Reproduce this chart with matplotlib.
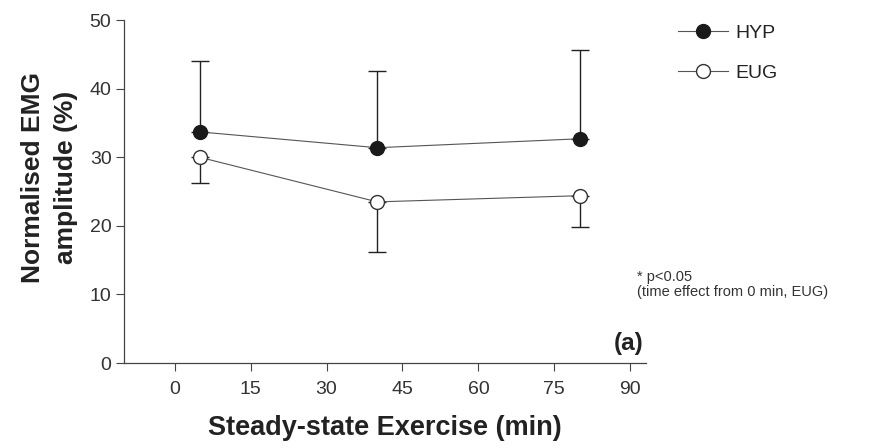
import matplotlib
matplotlib.use('Agg')
import matplotlib.pyplot as plt
from matplotlib.lines import Line2D

plt.rcParams['font.family'] = ['Liberation Sans', 'DejaVu Sans']

# Normalised EMG amplitude during steady-state exercise
TIME    = [5, 40, 80]
HYP     = [33.7, 31.4, 32.7]
HYP_ERR = [10.3, 11.2, 13.0]   # upward SD
EUG     = [30.0, 23.5, 24.4]
EUG_ERR = [3.7, 7.3, 4.5]      # downward SD

XTICKS = [0, 15, 30, 45, 60, 75, 90]
YTICKS = [0, 10, 20, 30, 40, 50]

LINE_C = '#555555'

fig = plt.figure(figsize=(8.78, 4.48), dpi=100)
ax = fig.add_axes([0.1412, 0.1897, 0.594, 0.7653])

ax.errorbar(TIME, HYP, yerr=[[0] * 3, HYP_ERR], fmt='none', ecolor='#222222',
            elinewidth=1.0, capsize=6.5, capthick=1.0, zorder=2)
ax.errorbar(TIME, EUG, yerr=[EUG_ERR, [0] * 3], fmt='none', ecolor='#222222',
            elinewidth=1.0, capsize=6.5, capthick=1.0, zorder=2)
ax.plot(TIME, HYP, color=LINE_C, lw=0.8, marker='o', ms=10,
        mfc='#1a1a1a', mec='#1a1a1a', zorder=3)
ax.plot(TIME, EUG, color=LINE_C, lw=0.8, marker='o', ms=10,
        mfc='white', mec='#333333', mew=1.0, zorder=3)

ax.set_xlim(-10, 93)
ax.set_ylim(0, 50)
ax.set_xticks(XTICKS)
ax.set_yticks(YTICKS)
for s in ['top', 'right']:
    ax.spines[s].set_visible(False)
for s in ['left', 'bottom']:
    ax.spines[s].set_color('#444444')
    ax.spines[s].set_linewidth(0.9)
ax.tick_params(direction='out', length=6, width=0.8, colors='#444444',
               labelsize=14, labelcolor='#333333')
ax.tick_params(axis='x', pad=7)
ax.tick_params(axis='y', pad=3)

ax.set_xlabel('Steady-state Exercise (min)', fontsize=19.5, fontweight='bold',
              labelpad=12, color='#222222')
ax.set_ylabel('Normalised EMG\namplitude (%)', fontsize=19, fontweight='bold',
              color='#222222', linespacing=1.45)
ax.yaxis.set_label_coords(-0.089, 0.54)

ax.text(0.997, 0.058, '(a)', transform=ax.transAxes, ha='right', va='center',
        fontsize=17.5, fontweight='bold', color='#222222')

fig.text(0.726, 0.365, '* p<0.05\n(time effect from 0 min, EUG)',
         fontsize=10.5, color='#333333', va='center', ha='left', linespacing=1.15)

handles = [
    Line2D([], [], color=LINE_C, lw=0.8, marker='o', ms=10,
           mfc='#1a1a1a', mec='#1a1a1a'),
    Line2D([], [], color=LINE_C, lw=0.8, marker='o', ms=10,
           mfc='white', mec='#333333'),
]
fig.legend(handles, ['HYP', 'EUG'], loc='upper left',
           bbox_to_anchor=(0.752, 0.985), frameon=False, fontsize=14,
           handlelength=2.6, labelspacing=1.15, handletextpad=0.35,
           labelcolor='#222222')

fig.savefig('out.png', dpi=100)
